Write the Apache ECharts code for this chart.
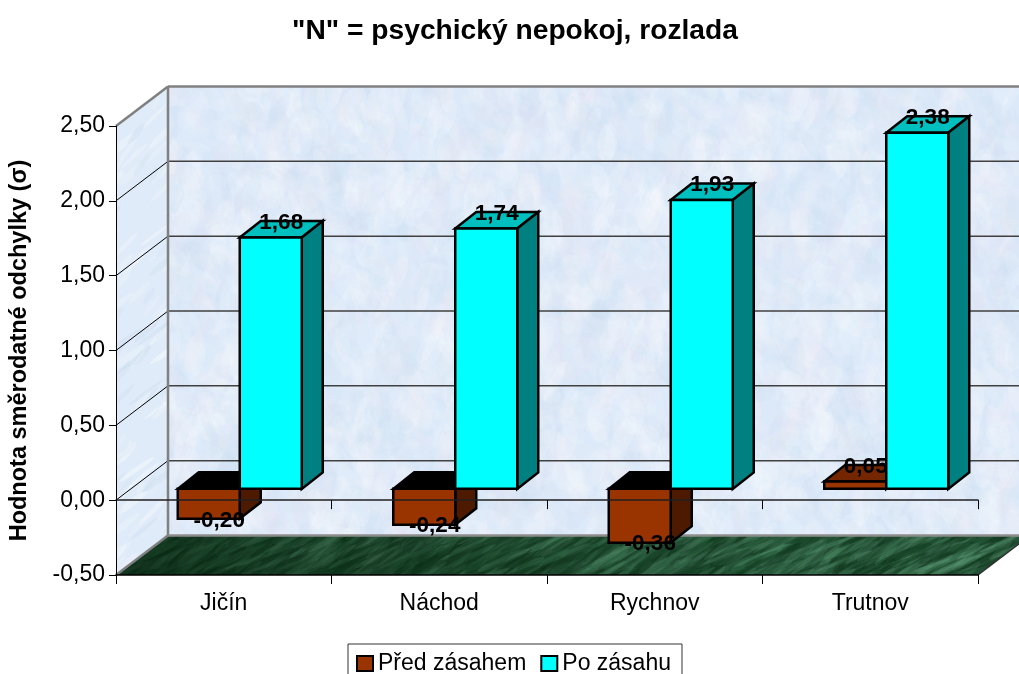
<!DOCTYPE html>
<html><head><meta charset="utf-8">
<style>html,body{margin:0;padding:0;background:#fff;overflow:hidden}#c{width:1019px;height:674px}</style>
<script src="https://cdn.jsdelivr.net/npm/echarts@6/dist/echarts.min.js"></script>
</head><body><div id="c"></div>
<script>
const titleText = '"N" = psychický nepokoj, rozlada';
const yAxisTitle = 'Hodnota směrodatné odchylky (σ)';
const categories = ['Jičín', 'Náchod', 'Rychnov', 'Trutnov'];
const seriesBeforeName = 'Před zásahem';
const seriesAfterName = 'Po zásahu';
const valuesBefore = [-0.20, -0.24, -0.36, 0.05];
const valuesAfter = [1.68, 1.74, 1.93, 2.38];
const axisMin = -0.5, axisMax = 2.5, axisStep = 0.5;
const wallTicks = [0, 0.5, 1, 1.5, 2];

const FONT = '"Liberation Sans", Arial, sans-serif';
const WALL_DX = 52, WALL_DY = -39.5;
const BAR_SHIFT_X = 16, BAR_SHIFT_Y = -11.3;
const BAR_DX = 21, BAR_DY = -16.5, BAR_W = 62;
const comma = v => v.toFixed(2).replace('.', ',');

// deterministic sequence for the marble textures (decoration only)
function seq(n){ const s = Math.sin(n * 12.9898 + 4.1) * 43758.5453; return s - Math.floor(s); }
function marble(w, h, base, colors, angle, spread, count, len, thick, alpha){
  const cv = document.createElement('canvas'); cv.width = w; cv.height = h;
  const g = cv.getContext('2d'); g.fillStyle = base; g.fillRect(0, 0, w, h);
  for (let i = 0; i < count; i++){
    const x = seq(i * 3 + 1) * w, y = seq(i * 3 + 2) * h, r = seq(i * 3 + 3);
    g.save(); g.translate(x, y); g.rotate(angle + (r - .5) * spread);
    g.globalAlpha = alpha * (.4 + r * .6);
    g.fillStyle = colors[i % colors.length];
    g.beginPath(); g.ellipse(0, 0, len * (.4 + r), thick * (.5 + seq(i + .5)), 0, 0, 7); g.fill();
    g.restore();
  }
  return cv;
}
function floorImage(){
  const cv = marble(1019, 674, '#265038', ['#0a3015', '#5c9874', '#123e22', '#3f7d58'], -0.6, .5, 16000, 22, 2.6, .34);
  const g = cv.getContext('2d');
  const lg = g.createLinearGradient(116, 0, 700, 0);
  lg.addColorStop(0, 'rgba(0,24,8,.55)'); lg.addColorStop(1, 'rgba(0,24,8,0)');
  g.fillStyle = lg; g.fillRect(0, 0, 1019, 674);
  return cv;
}
const backTex = {image: marble(1019, 674, '#dbe9f9', ['#ffffff', '#cbdef2', '#ebe8f4', '#f2f7fd'], 0.6, 3, 9000, 16, 8, .17), repeat: 'no-repeat'};
const leftTex = {image: marble(1019, 674, '#dfebf8', ['#ffffff', '#c8daee', '#f4f8fd'], -0.85, .5, 2600, 16, 2.5, .35), repeat: 'no-repeat'};
const floorTex = {image: floorImage(), repeat: 'no-repeat'};

function poly(points, fill){
  return {type: 'polygon', shape: {points}, style: {fill, stroke: 'none'}};
}
function seg(a, b, stroke, lineWidth){
  return {type: 'line', shape: {x1: a[0], y1: a[1], x2: b[0], y2: b[1]}, style: {stroke, lineWidth}};
}
function renderWalls(params, api){
  const tl = api.coord([0, axisMax]), bl = api.coord([0, axisMin]);
  const cs = params.coordSys;
  const L = cs.x, R = cs.x + cs.width, T = tl[1], B = bl[1];
  const bk = (x, y) => [x + WALL_DX, y + WALL_DY];
  const ch = [
    poly([bk(L, T), bk(R, T), bk(R, B), bk(L, B)], backTex),
    poly([[L, T], bk(L, T), bk(L, B), [L, B]], leftTex),
    poly([[L, B], [R, B], bk(R, B), bk(L, B)], floorTex)
  ];
  wallTicks.forEach(t => {
    const y = api.coord([0, t])[1];
    ch.push(seg(bk(L, y), bk(R, y), '#404040', 1.5));
    ch.push(seg([L, y], bk(L, y), '#000', 1));
  });
  ch.push(seg(bk(L, T), bk(R, T), '#808080', 2.5));
  ch.push(seg(bk(L, T), bk(L, B), '#808080', 2.5));
  ch.push(seg(bk(L, B), bk(R, B), '#8c8c8c', 2.5));
  ch.push(seg([L, T], bk(L, T), '#808080', 2.5));
  ch.push(seg([L, B], bk(L, B), '#808080', 2.5));
  ch.push(seg([R, B], bk(R, B), '#303030', 1.5));
  return {type: 'group', children: ch};
}
function cuboid(api, side, colors){
  const i = api.value(0), v = api.value(1);
  const pv = api.coord([i, v]), p0 = api.coord([i, 0]);
  const cx = pv[0] + BAR_SHIFT_X + side * BAR_W / 2;
  const x0 = cx - BAR_W / 2, x1 = cx + BAR_W / 2;
  const yVal = pv[1] + BAR_SHIFT_Y, yBase = p0[1] + BAR_SHIFT_Y;
  const yT = Math.min(yVal, yBase), yB = Math.max(yVal, yBase);
  const st = f => ({fill: f, stroke: '#000', lineWidth: 2.5, lineJoin: 'miter'});
  const shape = points => ({type: 'polygon', shape: {points}});
  const labelY = (v >= 0 ? yT + BAR_DY : yB) + 1.5;
  return {type: 'group', children: [
    Object.assign(shape([[x0, yT], [x0 + BAR_DX, yT + BAR_DY], [x1 + BAR_DX, yT + BAR_DY], [x1, yT]]), {style: st(v < 0 ? '#000' : colors.top)}),
    Object.assign(shape([[x1, yT], [x1 + BAR_DX, yT + BAR_DY], [x1 + BAR_DX, yB + BAR_DY], [x1, yB]]), {style: st(colors.side)}),
    Object.assign(shape([[x0, yT], [x1, yT], [x1, yB], [x0, yB]]), {style: st(colors.front)}),
    {type: 'text', style: {x: cx + BAR_DX / 2, y: labelY, text: comma(v), align: 'center', verticalAlign: 'middle', font: 'bold 22.5px ' + FONT, fill: '#000'}}
  ]};
}
const brownC = {front: '#993300', side: '#4d1a00', top: '#732600'};
const cyanC = {front: '#00ffff', side: '#008080', top: '#00bfbf'};

const chart = echarts.init(document.getElementById('c'), null, {renderer: 'canvas'});
chart.setOption({
  animation: false,
  backgroundColor: '#fff',
  title: {text: titleText, left: 510, top: 12, textAlign: 'center', textStyle: {fontFamily: FONT, fontSize: 28.2, fontWeight: 'bold', color: '#000'}},
  legend: {
    left: 348, top: 644, padding: [8, 11, 13, 8], itemGap: 14, itemWidth: 16, itemHeight: 15,
    selectedMode: false, borderColor: '#333', borderWidth: 1, backgroundColor: '#fff',
    textStyle: {fontFamily: FONT, fontSize: 23, color: '#000', padding: [2, 0, 0, 0]},
    data: [
      {name: seriesBeforeName, icon: 'rect', itemStyle: {color: '#993300', borderColor: '#000', borderWidth: 2}},
      {name: seriesAfterName, icon: 'rect', itemStyle: {color: '#00ffff', borderColor: '#000', borderWidth: 2}}
    ]
  },
  grid: {left: 116, right: 41, top: 126, bottom: 99, containLabel: false, outerBoundsMode: 'none'},
  xAxis: [
    {type: 'category', data: categories, z: 2, axisLine: {onZero: false, lineStyle: {color: '#000', width: 1.5}},
     axisTick: {show: true, interval: 0, length: 9, lineStyle: {color: '#000', width: 1}}, splitLine: {show: false},
     axisLabel: {margin: 17, fontFamily: FONT, fontSize: 23, color: '#000', interval: 0}},
    {type: 'category', data: categories, position: 'bottom', z: 4, axisLine: {onZero: true, lineStyle: {color: '#202020', width: 1.5}},
     axisTick: {show: true, interval: 0, length: 9, lineStyle: {color: '#000', width: 1}}, splitLine: {show: false}, axisLabel: {show: false}}
  ],
  yAxis: {type: 'value', min: axisMin, max: axisMax, interval: axisStep, z: 2,
    name: yAxisTitle, nameLocation: 'middle', nameRotate: 90, nameGap: 84,
    nameTextStyle: {fontFamily: FONT, fontSize: 23.5, fontWeight: 'bold', color: '#000'},
    axisLine: {show: true, onZero: false, lineStyle: {color: '#000', width: 1}},
    axisTick: {show: true, length: 7, lineStyle: {color: '#000', width: 1}},
    splitLine: {show: false},
    axisLabel: {margin: 11, fontFamily: FONT, fontSize: 23, color: '#000', formatter: v => comma(v)}
  },
  series: [
    {type: 'custom', name: 'walls', z: 1, silent: true, data: [[0, 0]], encode: {x: 0, y: 1}, clip: false, renderItem: renderWalls},
    {type: 'custom', name: seriesBeforeName, z: 3, itemStyle: {color: '#993300'}, encode: {x: 0, y: 1},
     data: valuesBefore.map((v, i) => [i, v]), renderItem: (p, api) => cuboid(api, -1, brownC)},
    {type: 'custom', name: seriesAfterName, z: 5, itemStyle: {color: '#00ffff'}, encode: {x: 0, y: 1},
     data: valuesAfter.map((v, i) => [i, v]), renderItem: (p, api) => cuboid(api, 1, cyanC)}
  ]
});
</script></body></html>
